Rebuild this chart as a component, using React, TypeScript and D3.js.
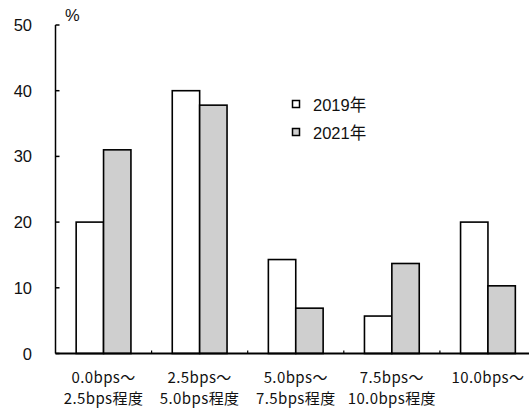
import React from "react";
import * as d3 from "d3";

const categories: string[][] = [
  ["0.0bps～", "2.5bps程度"],
  ["2.5bps～", "5.0bps程度"],
  ["5.0bps～", "7.5bps程度"],
  ["7.5bps～", "10.0bps程度"],
  ["10.0bps～"],
];
const seriesNames = ["2019年", "2021年"];
const values2019 = [20, 40, 14.3, 5.7, 20];
const values2021 = [31, 37.8, 6.9, 13.7, 10.3];
const yTicks = [0, 10, 20, 30, 40, 50];
const seriesFill = ["#ffffff", "#cfcfcf"];

const W = 529;
const H = 408;
const left = 55.5;
const top = 25;
const bottom = 353.5;
const step = 96.1;

export default function App() {
  const keys = categories.map((_, i) => String(i));
  const x = d3
    .scaleBand<string>()
    .domain(keys)
    .range([left, left + step * categories.length])
    .paddingInner(0.43)
    .paddingOuter(0.215);
  const xs = d3
    .scaleBand<string>()
    .domain(seriesNames)
    .range([0, x.bandwidth()])
    .padding(0);
  const y = d3.scaleLinear().domain([0, 50]).range([bottom, top]);
  const series = [values2019, values2021];
  const boundaries = keys.slice(1).map((k) => x(k)! - (x.step() * 0.43) / 2);

  const latin = "'Liberation Sans', Arial, 'Noto Sans CJK JP', sans-serif";
  const cjk = "'Noto Sans CJK JP', sans-serif";

  return (
    <svg
      width={W}
      height={H}
      style={{ position: "absolute", left: 0, top: 0, background: "#fff" }}
    >
      {/* bars */}
      {keys.map((k, i) =>
        series.map((vals, s) => (
          <rect
            key={`${k}-${s}`}
            x={x(k)! + xs(seriesNames[s])!}
            y={y(vals[i])}
            width={xs.bandwidth()}
            height={y(0) - y(vals[i])}
            fill={seriesFill[s]}
            stroke="#000"
            strokeWidth={1.6}
          />
        ))
      )}

      {/* y axis */}
      <line x1={left} x2={left} y1={y(50)} y2={y(0)} stroke="#000" strokeWidth={1.5} />
      {yTicks.map((t) => (
        <g key={t}>
          <line x1={left} x2={left + 4} y1={y(t)} y2={y(t)} stroke="#000" strokeWidth={1.5} />
          <text
            x={32}
            y={y(t) + 6}
            textAnchor="end"
            fontFamily={latin}
            fontSize={16.5}
            fill="#111"
          >
            {t}
          </text>
        </g>
      ))}
      <text x={65} y={21} fontFamily={latin} fontSize={16.5} fill="#111">
        %
      </text>

      {/* x axis */}
      <line x1={left} x2={W} y1={y(0)} y2={y(0)} stroke="#000" strokeWidth={1.8} />
      {boundaries.map((b, i) => (
        <line key={i} x1={b} x2={b} y1={y(0)} y2={y(0) - 3} stroke="#000" strokeWidth={1.2} />
      ))}
      {keys.map((k, i) => (
        <text
          key={k}
          textAnchor="middle"
          fontFamily={cjk}
          fontSize={15}
          letterSpacing={0.4}
          fill="#111"
        >
          {categories[i].map((line, j) => (
            <tspan key={j} x={x(k)! + x.bandwidth() / 2} y={383 + j * 21}>
              {line}
            </tspan>
          ))}
        </text>
      ))}

      {/* legend */}
      {seriesNames.map((name, s) => (
        <g key={name} transform={`translate(292, ${100 + s * 28})`}>
          <rect x={0.5} y={0.5} width={7} height={7} fill={seriesFill[s]} stroke="#000" strokeWidth={1.5} />
          <text x={21} y={11} fontFamily={latin} fontSize={16.5} fill="#111">
            {name}
          </text>
        </g>
      ))}
    </svg>
  );
}
